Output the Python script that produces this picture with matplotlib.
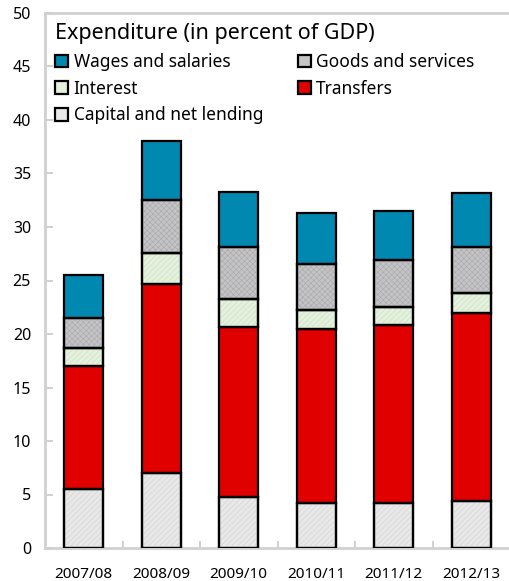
import numpy as np
import matplotlib
matplotlib.use('Agg')
import matplotlib.pyplot as plt

plt.rcParams['font.family'] = ['Noto Sans', 'DejaVu Sans']
plt.rcParams['hatch.linewidth'] = 0.4

years = ['2007/08', '2008/09', '2009/10', '2010/11', '2011/12', '2012/13']
capital = [5.5, 7.0, 4.8, 4.2, 4.2, 4.4]
transfers = [11.5, 17.7, 15.9, 16.3, 16.6, 17.6]
interest = [1.7, 2.9, 2.6, 1.7, 1.7, 1.8]
goods = [2.8, 4.9, 4.8, 4.3, 4.4, 4.3]
wages = [4.0, 5.5, 5.2, 4.8, 4.6, 5.1]

fig = plt.figure(figsize=(5.09, 5.81), dpi=100)
ax = fig.add_axes([45/509, 33/581, 465/509, 535/581])

x = np.arange(len(years))
series = [
    (capital, 'Capital and net lending', '#e8e8e8', '#d0d0d0', '//////'),
    (transfers, 'Transfers', '#e00000', None, None),
    (interest, 'Interest', '#e3f1dd', '#c8dcc0', '//////'),
    (goods, 'Goods and services', '#c4c3c6', '#a8a7aa', 'xxxxxx'),
    (wages, 'Wages and salaries', '#0088b0', None, None),
]
bottom = np.zeros(len(years))
handles = {}
for vals, name, color, hcol, hatch in series:
    b = ax.bar(x, vals, 0.5, bottom=bottom, color=color, edgecolor='black',
               linewidth=1.6, label=name, zorder=3)
    if hatch:
        ax.bar(x, vals, 0.5, bottom=bottom, color='none', edgecolor=hcol,
               hatch=hatch, linewidth=0, zorder=3)
        ax.bar(x, vals, 0.5, bottom=bottom, color='none', edgecolor='black',
               linewidth=1.6, zorder=4)
    handles[name] = b
    bottom += np.array(vals)

ax.set_xlim(-0.5, 5.5)
ax.set_ylim(0, 50)
ax.set_yticks(np.arange(0, 51, 5))
ax.set_xticks(x)
ax.set_xticklabels(years)
ax.set_xticks(np.arange(0.5, 5.5, 1), minor=True)
ax.tick_params(axis='x', which='major', length=0, labelsize=11, pad=14)
ax.tick_params(axis='x', which='minor', direction='in', length=5, color='#c8c8c8', width=1.2)
ax.tick_params(axis='y', direction='in', length=6, color='#c8c8c8', width=1.2,
               labelsize=11.5, pad=10)
for s in ax.spines.values():
    s.set_color('#d0d0d0')
    s.set_linewidth(2)

# legend fills column-wise, so this order gives rows: wages|goods, interest|transfers, capital
order = ['Wages and salaries', 'Interest', 'Capital and net lending',
         'Goods and services', 'Transfers']
leg = ax.legend([handles[n] for n in order], order, ncol=2, loc='upper left',
                bbox_to_anchor=(0.0, 1.0), frameon=False, fontsize=12.5,
                title='Expenditure (in percent of GDP)', title_fontsize=15.5,
                handlelength=0.75, handleheight=0.75, handletextpad=0.3,
                columnspacing=2.0, labelspacing=0.5, borderaxespad=0.2)
leg._legend_box.align = 'left'

fig.savefig('out.png', dpi=100)
